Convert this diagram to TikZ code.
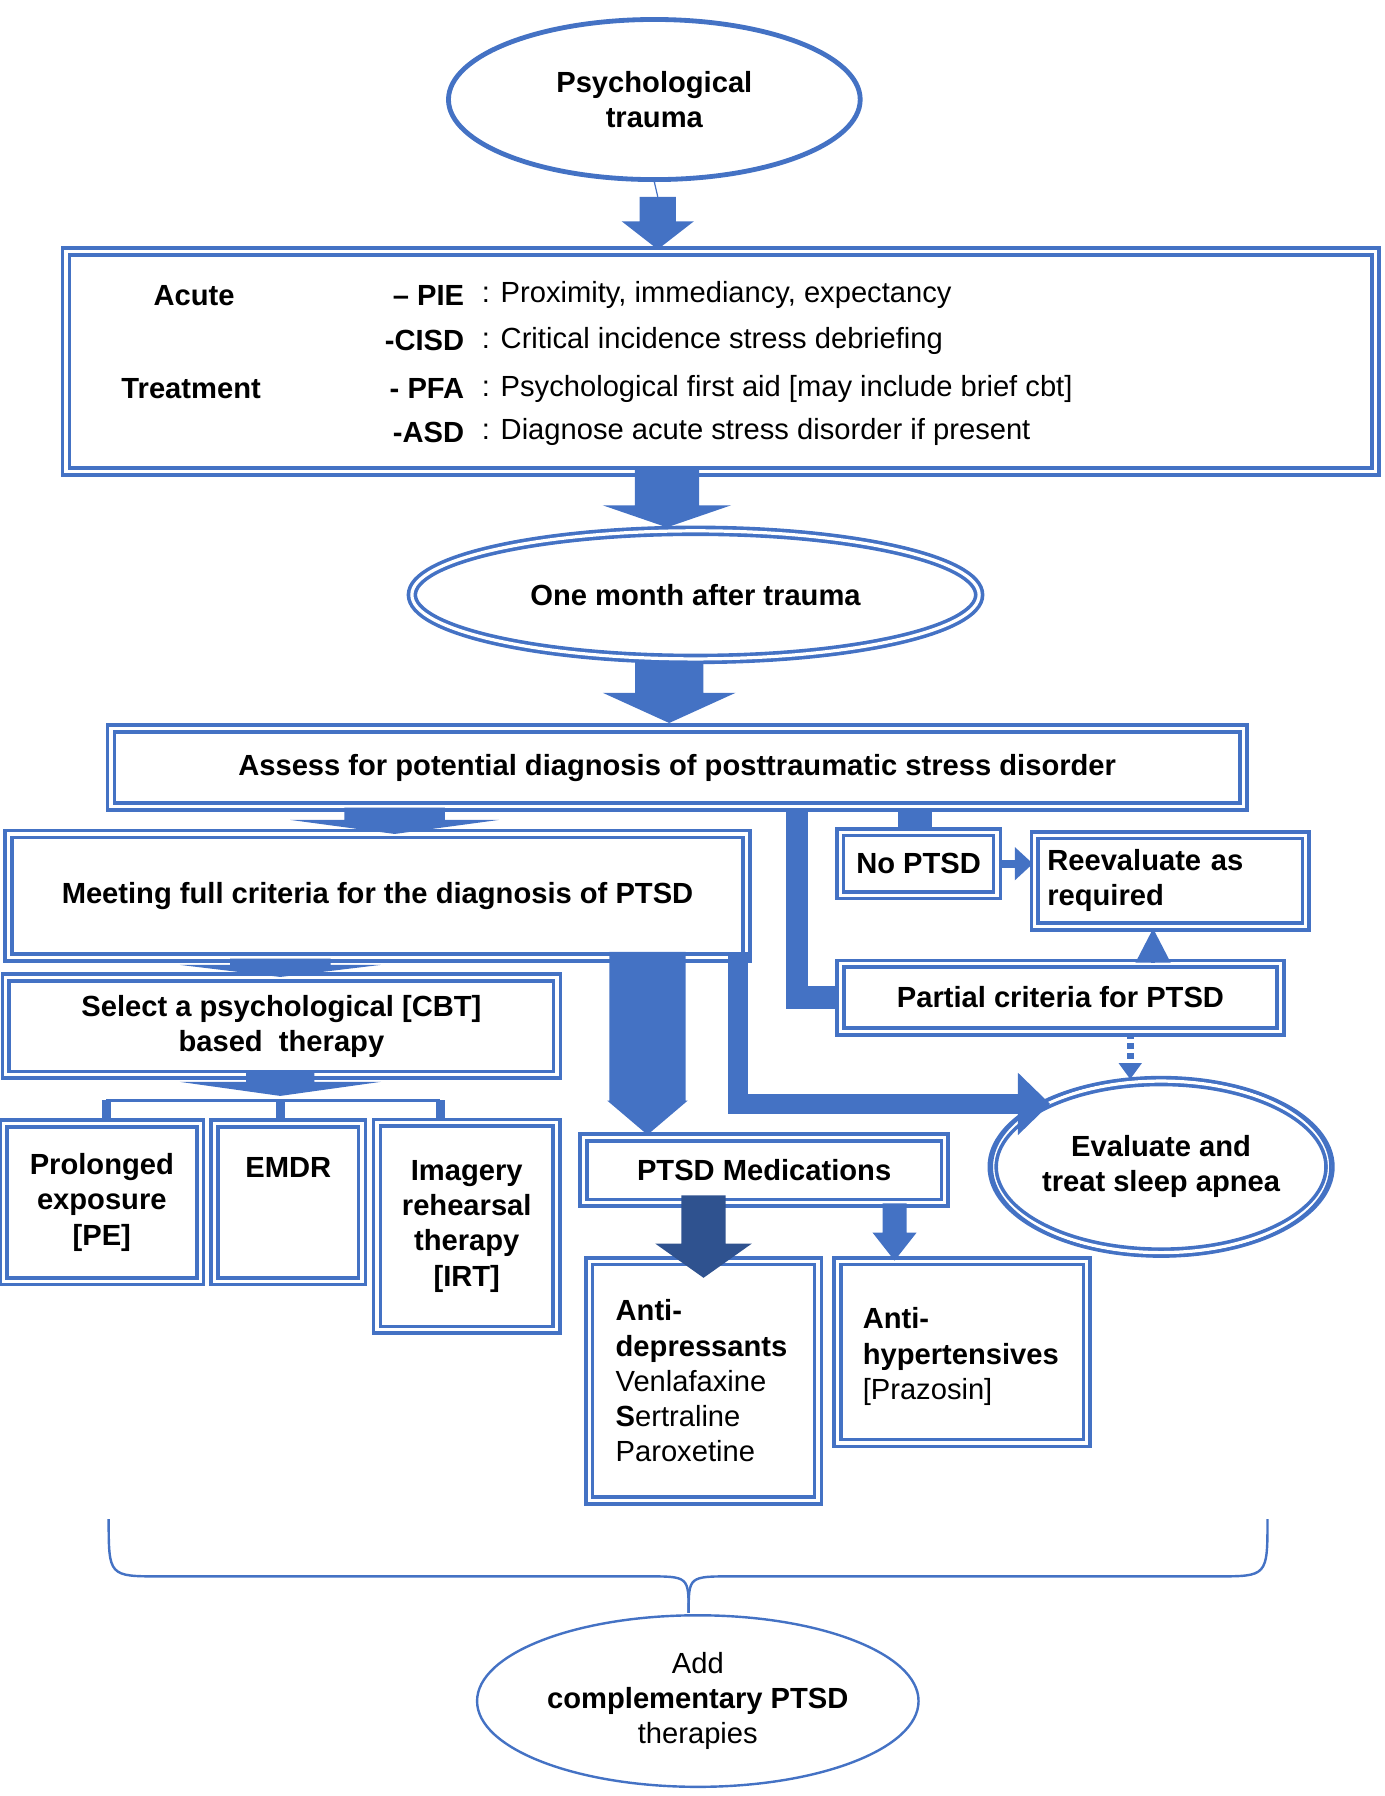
\documentclass[tikz,border=0pt]{standalone}
\usepackage{fontspec}
\setmainfont{Liberation Sans}
\usepackage{tikz}
\usetikzlibrary{arrows.meta,positioning,shapes.geometric,calc}
\definecolor{ptblue}{RGB}{68,114,196}
\definecolor{ptdark}{RGB}{47,82,143}

% vertical block arrow: from, to, shaft half, head half, head length, colour
\newcommand\varrow[6]{%
  \fill[#6] let \p1=(#1), \p2=(#2) in
    (\x1-#3,\y1) -- (\x1-#3,\y2+#5) -- (\x1-#4,\y2+#5) -- (\x1,\y2)
    -- (\x1+#4,\y2+#5) -- (\x1+#3,\y2+#5) -- (\x1+#3,\y1) -- cycle;}

\begin{document}
\begin{tikzpicture}[x=0.02cm, y=-0.02cm,
  txt/.style={font=\fontsize{14.5}{17.5}\selectfont, align=center},
  bx/.style={txt, draw=ptblue, line width=1.8pt, double=white,
    double distance=1.6pt, inner sep=0pt, font=\fontsize{14.5}{17.5}\selectfont\bfseries},
  oval/.style={bx, ellipse},
  bar/.style={draw=ptblue, line width=#1}
]
  \useasboundingbox (0,0) rectangle (1210,1570);

  % Top of the chart
  \node[oval, line width=2.4pt, double=none, minimum width=7.2cm, minimum height=2.8cm]
    (trauma) at (572,87) {Psychological\\trauma};
  \node[bx, minimum width=22.9cm, minimum height=3.84cm] (acute) at (630,316) {};
  \node[txt, font=\fontsize{14.5}{17.5}\selectfont\bfseries, anchor=west] (acl) at (128,258) {Acute};
  \node[txt, font=\fontsize{14.5}{17.5}\selectfont\bfseries, anchor=west] (trl) at (100,340) {Treatment};
  \foreach \yy/\key/\desc [count=\i] in {258/{-- PIE}/{Proximity, immediancy, expectancy},
      298/{-CISD}/{Critical incidence stress debriefing},
      340/{- PFA}/{Psychological first aid [may include brief cbt]},
      378/{-ASD}/{Diagnose acute stress disorder if present}} {
    \node[txt, font=\fontsize{14.5}{17.5}\selectfont\bfseries, anchor=east] (key\i) at (412,\yy) {\key};
    \node[txt, anchor=west] (desc\i) at (415,\yy) {: \desc};
  }
  \node[oval, minimum width=9.92cm, minimum height=2.24cm] (month) at (608,520) {One month after trauma};
  \node[bx, minimum width=19.8cm, minimum height=1.36cm] (assess) at (592,671)
    {Assess for potential diagnosis of posttraumatic stress disorder};

  % Diagnosis branches
  \node[bx, minimum width=12.9cm, minimum height=2.16cm] (meet) at (330,783)
    {Meeting full criteria for the diagnosis of PTSD};
  \node[bx, minimum width=2.74cm, minimum height=1.1cm] (nop) at (803,755) {No PTSD};
  \node[bx, minimum width=4.74cm, minimum height=1.6cm, align=left, text width=4.3cm] (reev) at (1023,770)
    {Reevaluate as\\required};
  \node[bx, minimum width=7.7cm, minimum height=1.18cm] (partial) at (927,872) {Partial criteria for PTSD};
  \node[oval, minimum width=5.8cm, minimum height=3cm] (sleep) at (1015,1020) {Evaluate and\\treat sleep apnea};
  \draw[ptblue, line width=1.2pt] (sleep) ellipse [x radius=148, y radius=78];

  % Psychological therapies
  \node[bx, minimum width=9.64cm, minimum height=1.7cm] (select) at (246,897)
    {Select a psychological [CBT]\\based\ \ therapy};
  \node[bx, minimum width=3.44cm, minimum height=2.76cm] (pe) at (89,1051) {Prolonged\\exposure\\{}[PE]};
  \node[bx, minimum width=2.58cm, minimum height=2.76cm] (emdr) at (252,1051) {EMDR\\\mbox{}\\\mbox{}};
  \node[bx, minimum width=3.14cm, minimum height=3.62cm] (irt) at (408,1072)
    {Imagery\\rehearsal\\therapy\\{}[IRT]};

  % Medications
  \node[bx, minimum width=6.32cm, minimum height=1.14cm] (med) at (668,1023) {PTSD Medications};
  \node[bx, minimum width=4cm, minimum height=4.18cm] (antid) at (615,1207) {};
  \node[txt, align=left, anchor=north west] (antidt) at (532,1130)
    {\textbf{Anti-}\\\textbf{depressants}\\Venlafaxine\\\textbf{S}ertraline\\Paroxetine};
  \node[bx, minimum width=4.36cm, minimum height=3.18cm] (antih) at (841,1182) {};
  \node[txt, align=left, anchor=north west] (antiht) at (748,1137)
    {\textbf{Anti-}\\\textbf{hypertensives}\\{}[Prazosin]};

  \node[oval, double=none, line width=1.2pt, minimum width=7.72cm, minimum height=3cm, font=\fontsize{14.5}{17.5}\selectfont]
    (comp) at (610,1487) {Add\\\textbf{complementary PTSD}\\therapies};

  % Connectors
  \coordinate (t1) at (575,172);
  \coordinate (t2) at (575,218);
  \draw[ptblue, line width=0.6pt] (trauma.south) -- (t1);
  \varrow{t1}{t2}{9pt}{18pt}{14pt}{ptblue}
  \coordinate (a1) at (583,410);
  \coordinate (a2) at (583,461);
  \varrow{a1}{a2}{16pt}{32pt}{11pt}{ptblue}
  \coordinate (m1) at (585,578);
  \coordinate (m2) at (585,632);
  \varrow{m1}{m2}{17pt}{33pt}{15pt}{ptblue}
  \coordinate (s1) at (345,706);
  \coordinate (s2) at (345,729);
  \varrow{s1}{s2}{25pt}{52pt}{7pt}{ptblue}
  \coordinate (c1) at (245,838);
  \coordinate (c2) at (245,854);
  \varrow{c1}{c2}{25pt}{50pt}{6pt}{ptblue}
  \coordinate (h1) at (245,938);
  \coordinate (h2) at (245,958);
  \varrow{h1}{h2}{17pt}{50pt}{7pt}{ptblue}
  \draw[bar=1.8pt] (93,962) -- (385,962);
  \foreach \nd/\xx in {pe/93, emdr/245, irt/385}
    \draw[bar=4.5pt] (\xx,962) -- (\nd.north -| \xx,0);
  \coordinate (d1) at (566,832);
  \coordinate (d2) at (566,992);
  \varrow{d1}{d2}{19pt}{20pt}{17pt}{ptblue}
  \coordinate (l1) at (645,832);
  \coordinate (l2) at (918,965);
  \draw[bar=10pt, -{Triangle[length=16pt,width=30pt]}] (l1) |- (l2);
  \draw[bar=11pt] (assess.south -| 697,0) |- (partial.west);
  \draw[bar=17pt] (assess.south -| 800,0) -- (nop.north -| 800,0);
  \draw[bar=4pt, -{Triangle[length=9pt,width=16pt]}] (nop.east) -- (reev.west |- nop.east);
  \draw[bar=2pt, -{Triangle[length=17pt,width=17pt]}] (partial.north -| 1008,0) -- (reev.south -| 1008,0);
  \draw[bar=3.5pt, densely dashed, -{Triangle[length=8pt,width=11pt]}] (partial.south -| 988,0) -- (sleep.north -| 988,0);
  \coordinate (p1) at (615,1045);
  \coordinate (p2) at (615,1117);
  \varrow{p1}{p2}{11pt}{24pt}{17pt}{ptdark}
  \coordinate (q1) at (782,1052);
  \coordinate (q2) at (782,1102);
  \varrow{q1}{q2}{6pt}{11pt}{14pt}{ptblue}

  % Brace
  \draw[ptblue, line width=1.2pt] (95,1328) .. controls (95,1378) and (95,1378) .. (140,1378)
    -- (565,1378) .. controls (602,1378) and (602,1378) .. (602,1410);
  \draw[ptblue, line width=1.2pt] (1108,1328) .. controls (1108,1378) and (1108,1378) .. (1063,1378)
    -- (640,1378) .. controls (602,1378) and (602,1378) .. (602,1410);
\end{tikzpicture}
\end{document}
